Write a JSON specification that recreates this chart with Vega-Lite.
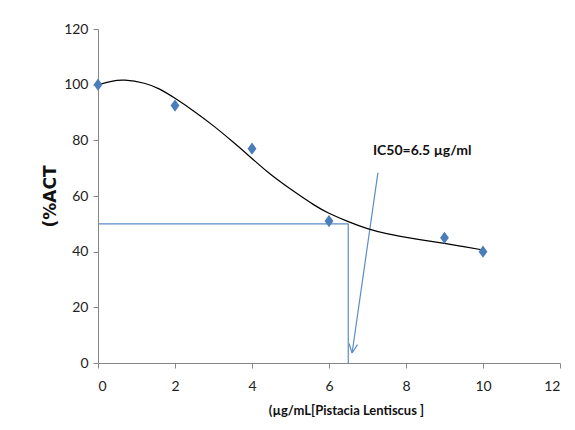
{
  "$schema": "https://vega.github.io/schema/vega-lite/v6.json",
  "width": 462,
  "height": 334,
  "autosize": {"type": "none"},
  "padding": {"left": 98, "top": 29, "right": 15, "bottom": 67},
  "background": "white",
  "config": {
    "view": {"stroke": null},
    "axis": {
      "grid": false,
      "domainColor": "#868686",
      "tickColor": "#868686",
      "tickSize": 5,
      "labelFont": "Lato",
      "labelFontSize": 14,
      "labelColor": "#222222",
      "titleColor": "#111111"
    }
  },
  "datasets": {
    "points": [
      {"x": 0, "y": 100},
      {"x": 2, "y": 92.5},
      {"x": 4, "y": 77},
      {"x": 6, "y": 51},
      {"x": 9, "y": 45},
      {"x": 10, "y": 40}
    ],
    "trend": [
      {"x": 0, "y": 100.0},
      {"x": 0.35, "y": 101.2},
      {"x": 0.7, "y": 101.6},
      {"x": 1.2, "y": 100.5},
      {"x": 1.6, "y": 98.4},
      {"x": 2.0, "y": 95.1},
      {"x": 2.5, "y": 90.4},
      {"x": 3.0, "y": 85.2},
      {"x": 3.5, "y": 79.5},
      {"x": 3.86, "y": 75.2},
      {"x": 4.4, "y": 68.7},
      {"x": 5.0, "y": 62.5},
      {"x": 5.6, "y": 56.9},
      {"x": 6.0, "y": 53.8},
      {"x": 6.5, "y": 50.8},
      {"x": 7.0, "y": 48.3},
      {"x": 7.5, "y": 46.5},
      {"x": 8.2, "y": 44.7},
      {"x": 9.0, "y": 43.0},
      {"x": 9.5, "y": 41.8},
      {"x": 10.0, "y": 40.6}
    ],
    "segments": [
      {"x": 0, "y": 50, "x2": 6.5, "y2": 50},
      {"x": 6.5, "y": 50, "x2": 6.5, "y2": 0},
      {"x": 7.27, "y": 68.3, "x2": 6.6, "y2": 3.6},
      {"x": 6.6, "y": 3.6, "x2": 6.74, "y2": 6.6},
      {"x": 6.6, "y": 3.6, "x2": 6.52, "y2": 7.0}
    ],
    "labels": [
      {"x": 7.14, "y": 74.7, "text": "IC50=6.5 µg/ml"}
    ]
  },
  "encoding": {
    "x": {"field": "x", "type": "quantitative", "scale": {"domain": [0, 12], "nice": false},
      "axis": {
        "values": [0, 2, 4, 6, 8, 10, 12],
        "labelPadding": 11,
        "title": "(µg/mL[Pistacia Lentiscus ]",
        "titleFont": "Lato",
        "titleFontWeight": "bold",
        "titleFontSize": 13,
        "titleX": 248,
        "titleY": 51,
        "titleAlign": "center",
        "titleBaseline": "alphabetic",
        "titleAnchor": null
      }
    },
    "y": {"field": "y", "type": "quantitative", "scale": {"domain": [0, 120], "nice": false},
      "axis": {
        "values": [0, 20, 40, 60, 80, 100, 120],
        "labelPadding": 5,
        "title": "(%ACT",
        "titleFont": "DejaVu Sans",
        "titleFontWeight": "bold",
        "titleFontSize": 17,
        "titleX": -48,
        "titleY": 167,
        "titleAngle": 270,
        "titleAlign": "center",
        "titleBaseline": "middle",
        "titleAnchor": null
      }
    }
  },
  "layer": [
    {
      "data": {"name": "segments"},
      "mark": {"type": "rule", "color": "#5B8CCB", "strokeWidth": 1.2},
      "encoding": {
        "x2": {"field": "x2"},
        "y2": {"field": "y2"}
      }
    },
    {
      "data": {"name": "trend"},
      "mark": {"type": "line", "color": "#000000", "strokeWidth": 1.2, "interpolate": "natural"},
      "encoding": {}
    },
    {
      "data": {"name": "points"},
      "mark": {"type": "point", "shape": "M-0.72,0L0,-1L0.72,0L0,1Z", "filled": true, "color": "#4A7EBB", "opacity": 1, "size": 150},
      "encoding": {}
    },
    {
      "data": {"name": "labels"},
      "mark": {"type": "text", "align": "left", "baseline": "alphabetic", "font": "Lato", "fontSize": 14, "fontWeight": "bold", "color": "#111111"},
      "encoding": {
        "text": {"field": "text"}
      }
    }
  ]
}
